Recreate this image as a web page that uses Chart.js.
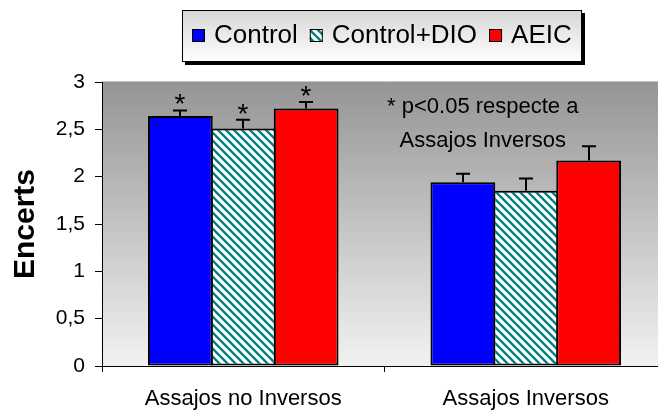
<!DOCTYPE html>
<html><head><meta charset="utf-8">
<script src="https://cdn.jsdelivr.net/npm/chart.js@4"></script>
<style>
html,body{margin:0;padding:0;background:#fff;overflow:hidden;width:658px;height:414px;}
#wrap{position:relative;width:668px;height:414px;}
</style></head><body>
<div id="wrap"><canvas id="c"></canvas></div>
<script>
const categories = ['Assajos no Inversos', 'Assajos Inversos'];
const seriesNames = ['Control', 'Control+DIO', 'AEIC'];
const controlValues = [2.64, 1.94];
const controlErrors = [0.06, 0.09];
const dioValues = [2.51, 1.85];
const dioErrors = [0.09, 0.13];
const aeicValues = [2.72, 2.17];
const aeicErrors = [0.07, 0.15];
const significant = [true, false];
const yTickValues = [0, 0.5, 1, 1.5, 2, 2.5, 3];
const yTickLabels = ['0', '0,5', '1', '1,5', '2', '2,5', '3'];
const yTitle = 'Encerts';
const noteLines = ['* p<0.05 respecte a', 'Assajos Inversos'];

const FONT = '"Liberation Sans", Arial, sans-serif';

function hatchPattern() {
  const s = 8;
  const cv = document.createElement('canvas');
  cv.width = s; cv.height = s;
  const g = cv.getContext('2d');
  g.fillStyle = '#ffffff';
  g.fillRect(0, 0, s, s);
  g.strokeStyle = '#008080';
  g.lineWidth = 2.3;
  g.beginPath();
  g.moveTo(-s, 0); g.lineTo(s, 2 * s);
  g.moveTo(0, 0); g.lineTo(s, s);
  g.moveTo(0, -s); g.lineTo(2 * s, s);
  g.stroke();
  return g.createPattern(cv, 'repeat');
}
const hatch = hatchPattern();

const errorSets = [controlErrors, dioErrors, aeicErrors];

const bgPlugin = {
  id: 'plotBg',
  beforeDraw(chart) {
    const {ctx, chartArea: a} = chart;
    ctx.save();
    const gr = ctx.createLinearGradient(0, a.top, 0, a.bottom);
    gr.addColorStop(0, '#959595');
    gr.addColorStop(1, '#f2f2f2');
    ctx.fillStyle = gr;
    ctx.fillRect(a.left, a.top, a.right - a.left, a.bottom - a.top);
    ctx.strokeStyle = '#c4c4c4';
    ctx.lineWidth = 1;
    ctx.beginPath();
    ctx.moveTo(a.left, a.top - 0.5);
    ctx.lineTo(a.right, a.top - 0.5);
    ctx.stroke();
    ctx.restore();
  }
};

const errPlugin = {
  id: 'errBars',
  afterDatasetsDraw(chart) {
    const {ctx} = chart;
    const y = chart.scales.y;
    ctx.save();
    ctx.strokeStyle = '#000';
    ctx.lineWidth = 2;
    chart.data.datasets.forEach((ds, di) => {
      const meta = chart.getDatasetMeta(di);
      meta.data.forEach((bar, i) => {
        const v = ds.data[i];
        const top = y.getPixelForValue(v + errorSets[di][i]);
        const x = Math.round(bar.x);
        ctx.beginPath();
        ctx.moveTo(x, bar.y);
        ctx.lineTo(x, top);
        ctx.moveTo(x - 7, top);
        ctx.lineTo(x + 7, top);
        ctx.stroke();
        if (significant[i]) {
          ctx.fillStyle = '#000';
          ctx.font = '28px ' + FONT;
          ctx.textAlign = 'center';
          ctx.textBaseline = 'alphabetic';
          ctx.fillText('*', x, top + 3);
        }
      });
    });
    ctx.restore();
  }
};

const overlayPlugin = {
  id: 'overlay',
  afterDraw(chart) {
    const {ctx, chartArea: a} = chart;
    ctx.save();
    ctx.fillStyle = '#000';
    ctx.font = '22px ' + FONT;
    ctx.textAlign = 'center';
    ctx.textBaseline = 'alphabetic';
    const nx = chart.scales.x.getPixelForValue(1) - 43;
    ctx.fillText(noteLines[0], nx, a.top + 31);
    ctx.fillText(noteLines[1], nx, a.top + 65);

    const L = {x: 182, y: 10, w: 400, h: 52};
    ctx.fillStyle = '#000';
    ctx.fillRect(L.x + 3, L.y + 3, L.w, L.h);
    const lg = ctx.createLinearGradient(0, L.y, 0, L.y + L.h);
    lg.addColorStop(0, '#d6d6d6');
    lg.addColorStop(1, '#ffffff');
    ctx.fillStyle = lg;
    ctx.fillRect(L.x, L.y, L.w, L.h);
    ctx.strokeStyle = '#000';
    ctx.lineWidth = 1;
    ctx.strokeRect(L.x + 0.5, L.y + 0.5, L.w - 1, L.h - 1);

    ctx.font = '26px ' + FONT;
    ctx.textAlign = 'left';
    let cx = 192;
    chart.data.datasets.forEach((ds) => {
      ctx.fillStyle = ds.backgroundColor;
      ctx.fillRect(cx, 29, 13, 13);
      ctx.strokeStyle = '#000';
      ctx.strokeRect(cx + 0.5, 29.5, 12, 12);
      ctx.fillStyle = '#000';
      ctx.fillText(ds.label, cx + 22, 43);
      cx += 22 + ctx.measureText(ds.label).width + 12;
    });
    ctx.restore();
  }
};

new Chart(document.getElementById('c'), {
  type: 'bar',
  data: {
    labels: categories,
    datasets: [
      {label: seriesNames[0], data: controlValues, backgroundColor: '#0000ff'},
      {label: seriesNames[1], data: dioValues, backgroundColor: hatch},
      {label: seriesNames[2], data: aeicValues, backgroundColor: '#ff0000'}
    ]
  },
  options: {
    responsive: true,
    maintainAspectRatio: false,
    animation: false,
    layout: {padding: {top: 82, left: 0, right: 1, bottom: 0}},
    datasets: {bar: {borderColor: '#000', borderWidth: 2, barPercentage: 1.03, categoryPercentage: 0.668, borderSkipped: false}},
    plugins: {legend: {display: false}, tooltip: {enabled: false}, title: {display: false}},
    scales: {
      x: {
        grid: {drawOnChartArea: false, drawTicks: true, tickLength: 6, color: '#000', offset: true},
        border: {display: true, color: '#000', width: 1},
        ticks: {color: '#000', font: {family: FONT, size: 22}, padding: 14, maxRotation: 0},
        afterFit(s) { s.height = 48; }
      },
      y: {
        min: 0, max: 3,
        grid: {drawOnChartArea: false, drawTicks: true, tickLength: 7, color: '#000'},
        border: {display: true, color: '#000', width: 1},
        ticks: {
          stepSize: 0.5, color: '#000', font: {family: FONT, size: 21}, padding: 10,
          callback: (v) => { const k = yTickValues.indexOf(v); return k >= 0 ? yTickLabels[k] : ''; }
        },
        title: {display: true, text: yTitle, color: '#000', font: {family: FONT, size: 30, weight: 'bold'}, padding: {top: 8, bottom: 0}},
        afterFit(s) { s.width = 102; }
      }
    }
  },
  plugins: [bgPlugin, errPlugin, overlayPlugin]
});
</script>
</body></html>
